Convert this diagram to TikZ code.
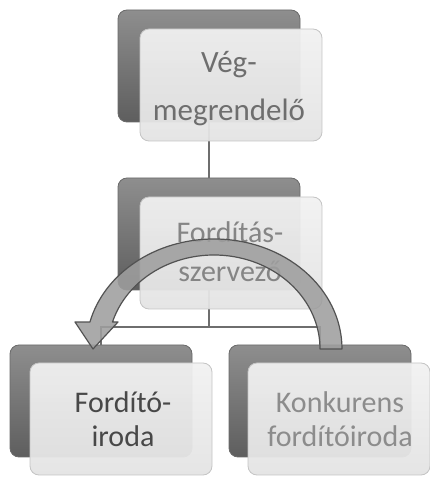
\documentclass[tikz,border=0pt]{standalone}
\usepackage{fontspec}
\setmainfont{Carlito}
\definecolor{bgtop}{HTML}{8E8E8E}
\definecolor{bgbot}{HTML}{5E5E5E}
\definecolor{bgedge}{HTML}{6A6A6A}
\definecolor{fronttop}{HTML}{F1F1F1}
\definecolor{frontbot}{HTML}{E4E4E4}
\definecolor{frontedge}{HTML}{C4C4C4}
\definecolor{connc}{HTML}{6E6E6E}
\definecolor{bandfill}{HTML}{9E9E9E}
\definecolor{bandedge}{HTML}{525252}
\definecolor{txtA}{HTML}{6E6E6E}
\definecolor{txtB}{HTML}{858585}
\definecolor{txtC}{HTML}{484848}
\definecolor{txtD}{HTML}{8C8C8C}
\begin{document}
\begin{tikzpicture}[x=1pt,y=1pt,
  back/.style={rounded corners=9pt, top color=bgtop, bottom color=bgbot, draw=bgedge, line width=0.8pt,
    minimum width=182pt, minimum height=112pt, inner sep=0pt},
  front/.style={rounded corners=9pt, top color=fronttop, bottom color=frontbot, fill opacity=0.95,
    draw=frontedge, line width=0.8pt, minimum width=182pt, minimum height=112pt, inner sep=0pt},
  conn/.style={draw=connc, line width=1.3pt},
  lbl/.style={anchor=base, font=\fontsize{30}{36}\selectfont, inner sep=0pt},
  band/.style={fill=bandfill, fill opacity=0.88, draw=bandedge, line width=1.2pt, line join=round}
]
\useasboundingbox (0,0) rectangle (430,480);
% coordinates of the back boxes' connection points
\coordinate (j) at (209,153);
\coordinate (c1) at (209,358);
\coordinate (c2t) at (209,302);
\coordinate (c2b) at (209,190);
\coordinate (c3) at (101,135);
\coordinate (c4) at (320,135);
% connectors (behind the boxes)
\draw[conn] (c1) -- (c2t);
\draw[conn] (c2b) -- (j);
\draw[conn] (j) -| (c3);
\draw[conn] (j) -| (c4);
% back boxes
\node[back] (b1) at (209,414) {};
\node[back] (b2) at (209,246) {};
\node[back] (b3) at (101,79) {};
\node[back] (b4) at (320,79) {};
% front boxes
\node[front] (f1) at (231,395) {};
\node[front] (f2) at (231,227) {};
\node[front] (f3) at (121,61) {};
\node[front] (f4) at (339,61) {};
% texts
\node[lbl, text=txtA, font=\fontsize{31}{36}\selectfont] (t1a) at (229,407) {Vég-};
\node[lbl, text=txtA, font=\fontsize{31}{36}\selectfont] (t1b) at (229,359) {megrendelő};
\node[lbl, text=txtB] (t2a) at (230,237) {Fordítás-};
\node[lbl, text=txtB] (t2b) at (230,198) {szervező};
\node[lbl, text=txtC] (t3a) at (123,67) {Fordító-};
\node[lbl, text=txtC] (t3b) at (123,33) {iroda};
\node[lbl, text=txtD] (t4a) at (340,67) {Konkurens};
\node[lbl, text=txtD] (t4b) at (340,33) {fordítóiroda};
% curved arrow
\draw[band] (342,131) arc[start angle=0, end angle=165.8, x radius=128, y radius=110]
  -- (75,158) -- (93,131) -- (118,158) -- (112.5,158)
  arc[start angle=163.3, end angle=0, x radius=106, y radius=94] -- cycle;
\end{tikzpicture}
\end{document}
